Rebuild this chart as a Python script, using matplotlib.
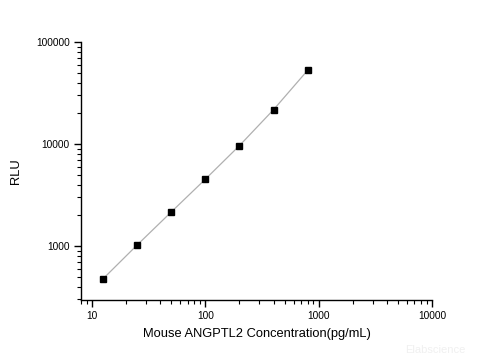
import matplotlib.pyplot as plt
from matplotlib.ticker import LogLocator, NullFormatter, FixedLocator, FixedFormatter

plt.rcParams['font.family'] = ['Liberation Sans', 'DejaVu Sans']

# standard curve data
conc = [12.5, 25, 50, 100, 200, 400, 800]
rlu = [475, 1020, 2150, 4510, 9630, 21700, 52800]

x_ticks = [10, 100, 1000, 10000]
y_ticks = [1000, 10000, 100000]


def main():
    fig = plt.figure(figsize=(4.8, 3.6), dpi=100)
    ax = fig.add_axes([81 / 480, 60 / 360, (432 - 81) / 480, (300 - 42) / 360])

    ax.plot(conc, rlu, color="#b0b0b0", lw=0.9, zorder=1)
    ax.plot(conc, rlu, ls="none", marker="s", ms=4.2, color="black", zorder=2)

    ax.set_xscale("log")
    ax.set_yscale("log")
    ax.set_xlim(8, 10000)
    ax.set_ylim(295, 100000)

    ax.xaxis.set_major_locator(FixedLocator(x_ticks))
    ax.xaxis.set_major_formatter(FixedFormatter([str(v) for v in x_ticks]))
    ax.yaxis.set_major_locator(FixedLocator(y_ticks))
    ax.yaxis.set_major_formatter(FixedFormatter([str(v) for v in y_ticks]))
    ax.xaxis.set_minor_locator(LogLocator(base=10, subs=range(2, 10)))
    ax.yaxis.set_minor_locator(LogLocator(base=10, subs=range(2, 10)))
    ax.xaxis.set_minor_formatter(NullFormatter())
    ax.yaxis.set_minor_formatter(NullFormatter())

    for side in ("top", "right"):
        ax.spines[side].set_visible(False)
    for side in ("left", "bottom"):
        ax.spines[side].set_linewidth(1.0)

    ax.tick_params(which="major", direction="out", length=5, width=1, labelsize=7.3, pad=3)
    ax.tick_params(which="minor", direction="out", length=3, width=0.8)

    ax.set_xlabel("Mouse ANGPTL2 Concentration(pg/mL)", fontsize=9.3, labelpad=5)
    ax.set_ylabel("RLU", fontsize=9.3, labelpad=10)

    fig.text(0.97, 0.015, "Elabscience", color="#f0f0f0", fontsize=8, ha="right", va="bottom")

    fig.savefig("out.png", dpi=100)


if __name__ == "__main__":
    main()
